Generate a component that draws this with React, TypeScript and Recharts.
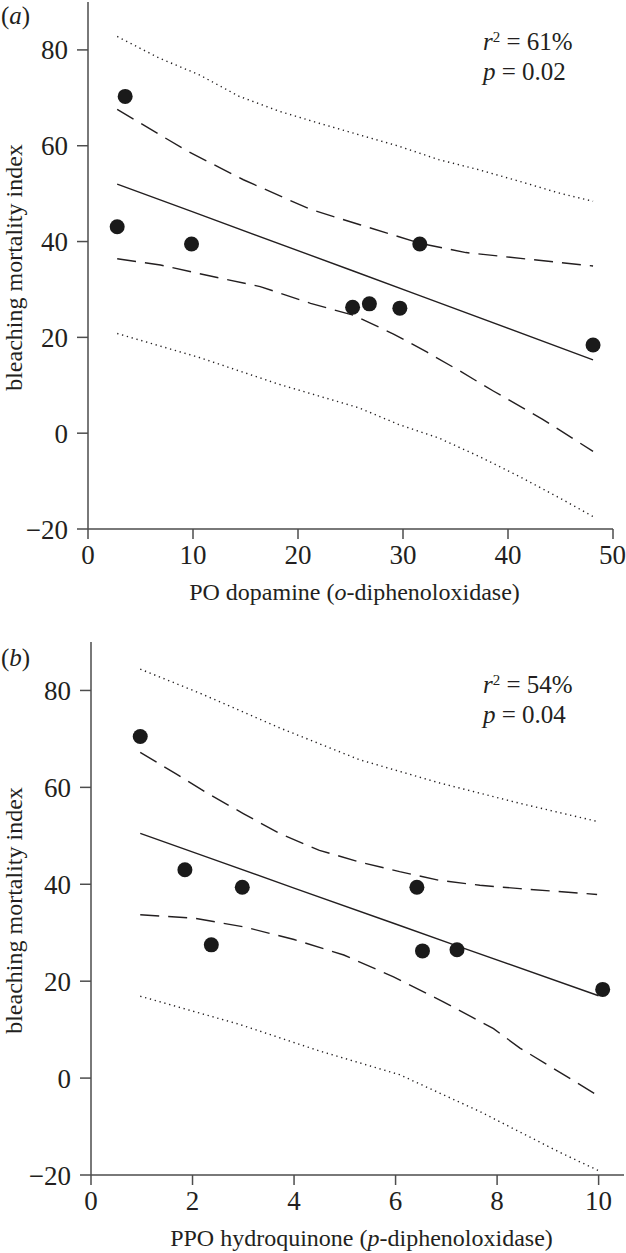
import React from "react";
import {
  ComposedChart,
  Line,
  Scatter,
  XAxis,
  YAxis,
} from "recharts";

// (a) PO dopamine
const poX = [2.78, 3.54, 9.86, 25.2, 26.8, 29.7, 31.6, 48.1];
const poY = [43.1, 70.3, 39.5, 26.3, 27.0, 26.1, 39.5, 18.4];
const poFitX = [2.78, 9.86, 25.2, 31.6, 48.1];
const poFitY = [52.0, 46.3, 33.9, 28.7, 15.3];
const poCiUpX = [2.78, 9.44, 14.8, 21.2, 25.9, 31.7, 36, 42, 48.1];
const poCiUpY = [67.6, 58.9, 52.9, 46.7, 43.5, 39.6, 37.7, 36.3, 34.9];
const poCiLoX = [2.78, 6.9, 11.65, 16.4, 21.2, 25.3, 29.1, 32.3, 35.4, 38.6, 43.3, 48.1];
const poCiLoY = [36.4, 35.1, 32.8, 30.6, 27.1, 24.6, 20.7, 16.9, 13.0, 8.8, 2.9, -3.8];
const poPiUpX = [2.78, 6.78, 10.6, 14.4, 18.2, 22.0, 25.8, 29.6, 33.4, 37.2, 41.05, 44.9, 48.1];
const poPiUpY = [82.8, 78.3, 74.8, 70.3, 67.2, 64.7, 62.3, 59.9, 57.1, 55.0, 52.6, 50.1, 48.4];
const poPiLoX = [2.78, 10.6, 18.2, 25.8, 29.6, 33.4, 37.2, 41.05, 44.9, 48.1];
const poPiLoY = [20.8, 15.8, 10.2, 5.3, 1.8, -1.0, -4.8, -9.0, -13.5, -17.4];
const poTicks = [0, 10, 20, 30, 40, 50];

// (b) PPO hydroquinone
const ppoX = [0.97, 1.85, 2.37, 2.98, 6.42, 6.53, 7.21, 10.08];
const ppoY = [70.5, 43.0, 27.5, 39.4, 39.4, 26.25, 26.5, 18.3];
const ppoFitX = [0.97, 2.37, 4.0, 6.0, 7.21, 10.0];
const ppoFitY = [50.5, 45.3, 39.2, 31.8, 27.3, 17.0];
const ppoCiUpX = [0.97, 1.66, 2.29, 3.0, 3.71, 4.5, 5.29, 6.08, 6.87, 7.66, 8.45, 9.97];
const ppoCiUpY = [67.2, 62.9, 58.8, 54.6, 50.5, 47.0, 44.6, 42.6, 40.8, 39.8, 39.1, 37.9];
const ppoCiLoX = [0.97, 2.03, 3.02, 4.0, 4.98, 5.96, 6.95, 7.93, 8.45, 9.97];
const ppoCiLoY = [33.7, 33.0, 31.2, 28.6, 25.4, 20.9, 15.7, 10.2, 6.2, -3.5];
const ppoPiUpX = [0.97, 2.13, 3.71, 5.29, 6.87, 8.45, 10.0];
const ppoPiUpY = [84.4, 79.5, 72.3, 65.7, 60.9, 56.7, 52.9];
const ppoPiLoX = [0.97, 2.92, 4.5, 6.08, 7.66, 9.23, 10.0];
const ppoPiLoY = [16.9, 11.1, 5.6, 0.7, -6.9, -15.3, -19.1];
const ppoTicks = [0, 2, 4, 6, 8, 10];

const yTicks = [-20, 0, 20, 40, 60, 80];

const FONT = "'Liberation Serif', 'Times New Roman', serif";
const INK = "#231f20";
const AXIS = "#4d4d4d";

const pts = (xs: number[], ys: number[]) => xs.map((x, i) => ({ x, y: ys[i] }));

const YTitle = ({ viewBox }: any) => {
  const cx = 14;
  const cy = viewBox.y + viewBox.height / 2 + 2;
  return (
    <text
      x={cx}
      y={cy}
      transform={`rotate(-90 ${cx} ${cy})`}
      textAnchor="middle"
      dominantBaseline="central"
      fontFamily={FONT}
      fontSize={24}
      fill={INK}
    >
      bleaching mortality index
    </text>
  );
};

const makeXTitle = (pre: string, ital: string, post: string) => ({ viewBox }: any) => (
  <text
    x={viewBox.x + viewBox.width / 2 + 4}
    y={viewBox.y + 71}
    textAnchor="middle"
    fontFamily={FONT}
    fontSize={24}
    fill={INK}
  >
    {pre}
    <tspan fontStyle="italic">{ital}</tspan>
    {post}
  </text>
);

interface PanelProps {
  width: number;
  height: number;
  margin: { top: number; right: number; left: number; bottom: number };
  yWidth: number;
  xHeight: number;
  xDomain: [number, number];
  xTicks: number[];
  dots: { x: number; y: number }[];
  fit: { x: number; y: number }[];
  ciUp: { x: number; y: number }[];
  ciLo: { x: number; y: number }[];
  piUp: { x: number; y: number }[];
  piLo: { x: number; y: number }[];
  xTitle: any;
}

const Panel = (p: PanelProps) => {
  const tickStyle = { fontFamily: FONT, fontSize: 27, fill: INK };
  const lineProps = {
    dataKey: "y",
    stroke: INK,
    strokeWidth: 1.4,
    dot: false,
    activeDot: false,
    isAnimationActive: false,
    type: "linear" as const,
  };
  return (
    <ComposedChart width={p.width} height={p.height} margin={p.margin}>
      <XAxis
        type="number"
        dataKey="x"
        domain={p.xDomain}
        ticks={p.xTicks}
        allowDataOverflow
        height={p.xHeight}
        tickSize={10}
        tickMargin={6}
        tick={tickStyle}
        stroke={AXIS}
        strokeWidth={1.5}
        label={{ content: p.xTitle }}
      />
      <YAxis
        type="number"
        dataKey="y"
        domain={[-20, 90]}
        ticks={yTicks}
        allowDataOverflow
        width={p.yWidth}
        tickSize={11}
        tickMargin={9}
        tick={tickStyle}
        stroke={AXIS}
        strokeWidth={1.5}
        tickFormatter={(v: number) => (v < 0 ? `\u2212${Math.abs(v)}` : `${v}`)}
        label={{ content: YTitle }}
      />
      <Line {...lineProps} data={p.piUp} strokeDasharray="1.3 3.7" />
      <Line {...lineProps} data={p.piLo} strokeDasharray="1.3 3.7" />
      <Line {...lineProps} data={p.ciUp} strokeDasharray="19 9" />
      <Line {...lineProps} data={p.ciLo} strokeDasharray="19 9" />
      <Line {...lineProps} data={p.fit} />
      <Scatter
        data={p.dots}
        fill="#1a1a1a"
        isAnimationActive={false}
        shape={(s: any) => <circle cx={s.cx} cy={s.cy} r={7.5} fill="#1a1a1a" />}
      />
    </ComposedChart>
  );
};

const note: React.CSSProperties = {
  position: "absolute",
  fontFamily: FONT,
  fontSize: 25,
  color: INK,
  lineHeight: "25px",
  whiteSpace: "nowrap",
};

const Stat = ({ left, top, r2, pv }: { left: number; top: number; r2: string; pv: string }) => (
  <>
    <div style={{ ...note, left, top }}>
      <i>r</i>
      <sup style={{ fontSize: 15, verticalAlign: "8px", lineHeight: 0 }}>2</sup> = {r2}
    </div>
    <div style={{ ...note, left, top: top + 30 }}>
      <i>p</i> = {pv}
    </div>
  </>
);

export default function App() {
  return (
    <div
      style={{
        position: "absolute",
        left: 0,
        top: 0,
        width: 626,
        height: 1253,
        background: "#fff",
        overflow: "hidden",
      }}
    >
      <div style={{ position: "absolute", left: 0, top: 0 }}>
        <Panel
          width={626}
          height={620}
          margin={{ top: 2, right: 13, left: 0, bottom: 0 }}
          yWidth={88}
          xHeight={91}
          xDomain={[0, 50]}
          xTicks={poTicks}
          dots={pts(poX, poY)}
          fit={pts(poFitX, poFitY)}
          ciUp={pts(poCiUpX, poCiUpY)}
          ciLo={pts(poCiLoX, poCiLoY)}
          piUp={pts(poPiUpX, poPiUpY)}
          piLo={pts(poPiLoX, poPiLoY)}
          xTitle={makeXTitle("PO dopamine (", "o", "-diphenoloxidase)")}
        />
      </div>
      <div style={{ position: "absolute", left: 0, top: 620 }}>
        <Panel
          width={626}
          height={633}
          margin={{ top: 22, right: 2, left: 0, bottom: 0 }}
          yWidth={91}
          xHeight={78}
          xDomain={[0, 10.5]}
          xTicks={ppoTicks}
          dots={pts(ppoX, ppoY)}
          fit={pts(ppoFitX, ppoFitY)}
          ciUp={pts(ppoCiUpX, ppoCiUpY)}
          ciLo={pts(ppoCiLoX, ppoCiLoY)}
          piUp={pts(ppoPiUpX, ppoPiUpY)}
          piLo={pts(ppoPiLoX, ppoPiLoY)}
          xTitle={makeXTitle("PPO hydroquinone (", "p", "-diphenoloxidase)")}
        />
      </div>
      <div style={{ ...note, left: 1, top: 3 }}>
        (<i>a</i>)
      </div>
      <div style={{ ...note, left: 1, top: 645 }}>
        (<i>b</i>)
      </div>
      <Stat left={483} top={29} r2="61%" pv="0.02" />
      <Stat left={483} top={672} r2="54%" pv="0.04" />
    </div>
  );
}
